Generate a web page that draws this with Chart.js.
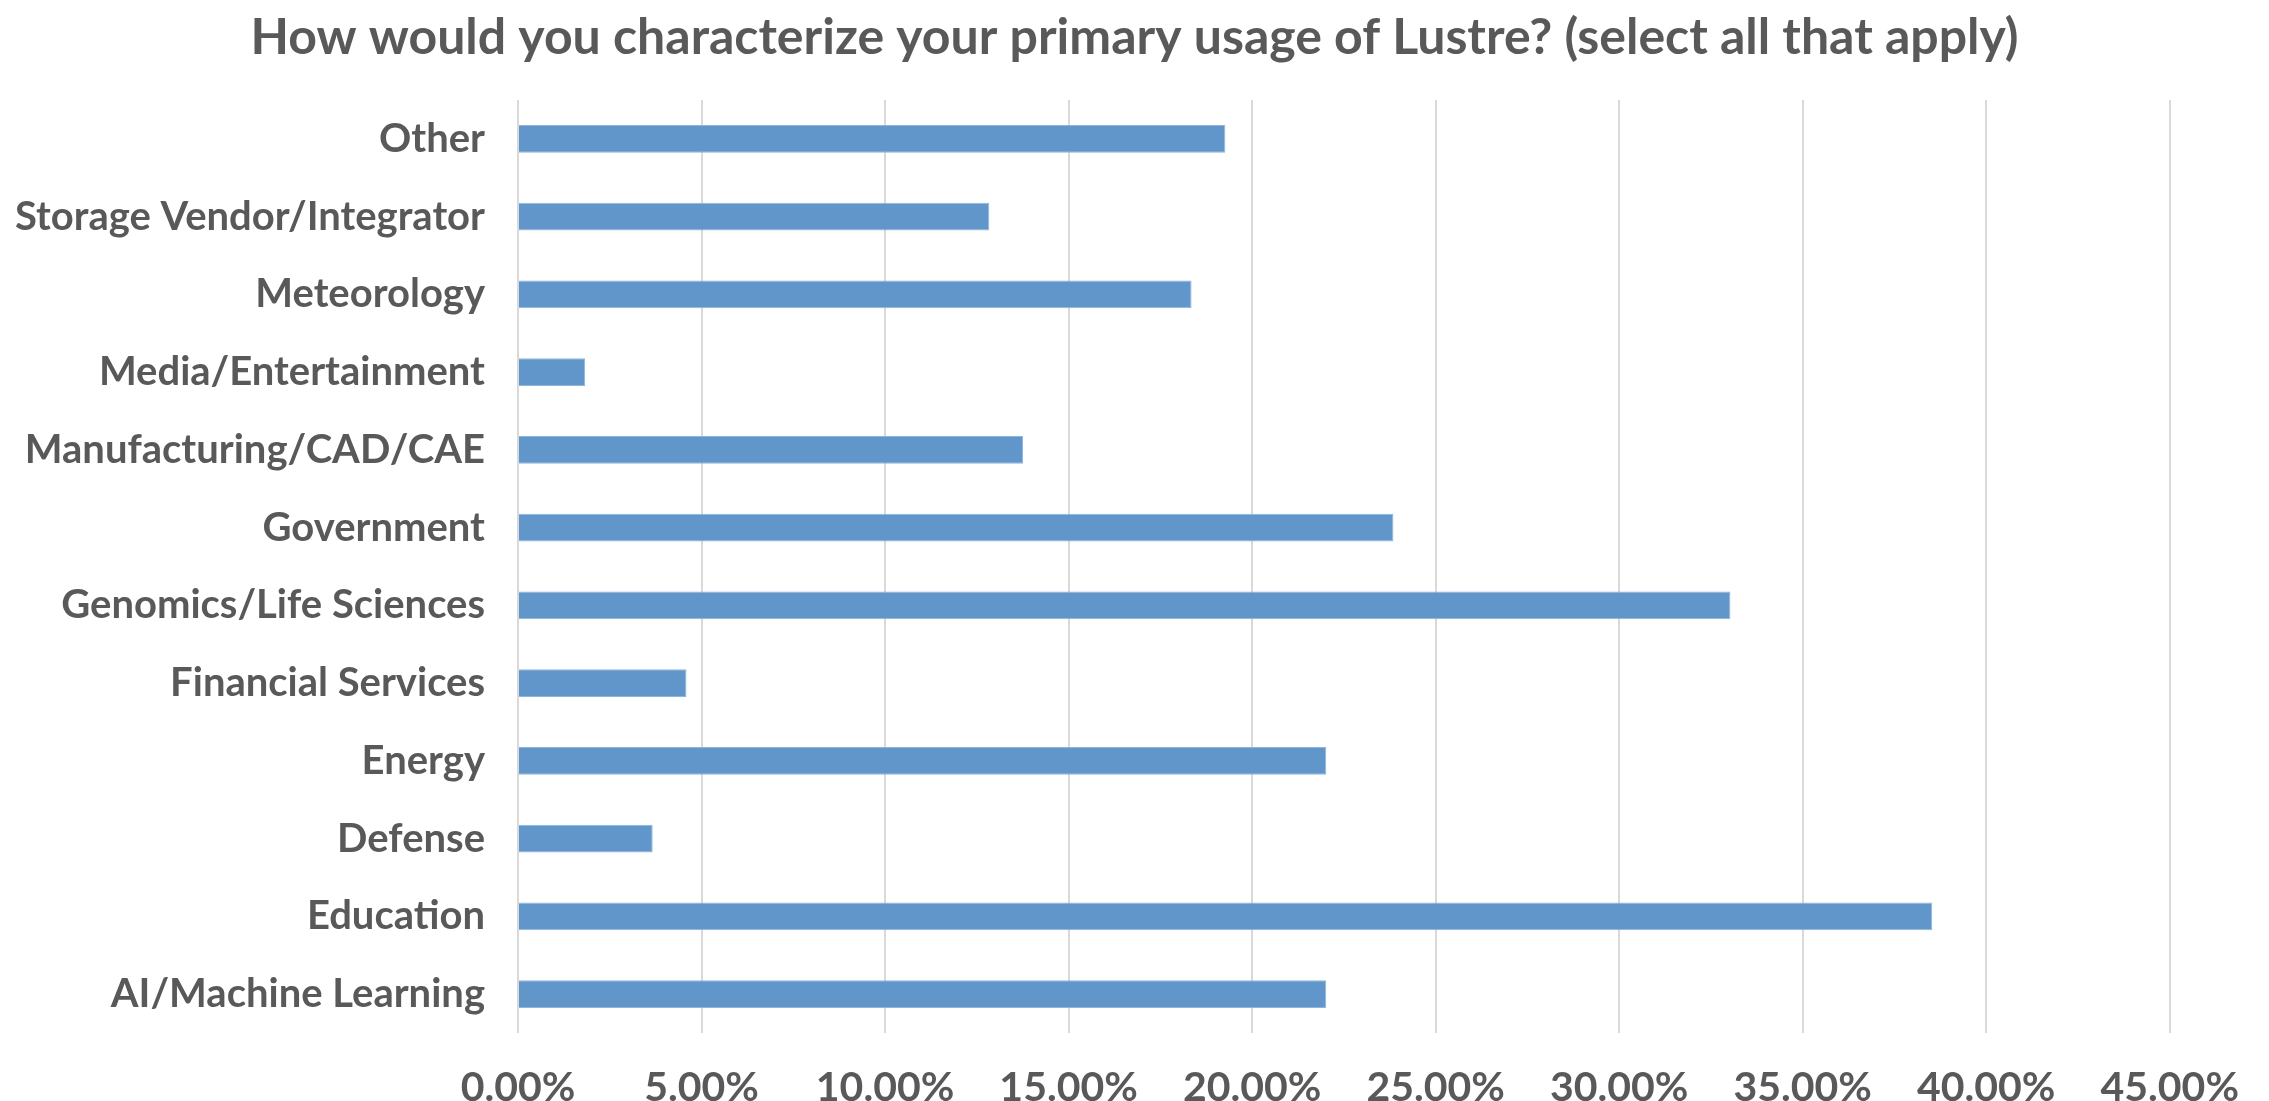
<!DOCTYPE html>
<html>
<head>
<meta charset="utf-8">
<title>Lustre usage</title>
<script src="https://cdn.jsdelivr.net/npm/chart.js@4"></script>
<style>
    html, body { margin: 0; padding: 0; background: #ffffff; }
    #wrap { width: 2269px; height: 1101px; }
</style>
</head>
<body>
<div id="wrap"><canvas id="chartCanvas" width="2269" height="1101"></canvas></div>
<script>
    // survey answers, bottom to top as in the original sheet
    const categories = [
        'AI/Machine Learning',
        'Education',
        'Defense',
        'Energy',
        'Financial Services',
        'Genomics/Life Sciences',
        'Government',
        'Manufacturing/CAD/CAE',
        'Media/Entertainment',
        'Meteorology',
        'Storage Vendor/Integrator',
        'Other'
    ];
    const shareOfResponses = [22.02, 38.53, 3.67, 22.02, 4.59, 33.03, 23.85, 13.76, 1.83, 18.35, 12.84, 19.27];
    const xTickMax = 45;
    const xTickStep = 5;

    const titleText = 'How would you characterize your primary usage of Lustre? (select all that apply)';
    const fontFamily = 'Lato, "Open Sans", sans-serif';
    const textColor = '#595959';

    const chartData = {
        labels: categories,
        datasets: [{
            label: 'Share',
            data: shareOfResponses,
            backgroundColor: '#6096c9',
            borderColor: '#8fb5dc',
            borderWidth: 1,
            categoryPercentage: 1,
            barPercentage: 0.36
        }]
    };

    // the title is centred on the whole image, not on the padded layout
    const centreTitle = {
        id: 'centreTitle',
        afterLayout(chart) {
            const t = chart.titleBlock;
            if (!t) return;
            t.left = 0;
            t.right = chart.width;
            t.width = chart.width;
        }
    };

    const ctx = document.getElementById('chartCanvas').getContext('2d');
    new Chart(ctx, {
        type: 'bar',
        data: chartData,
        plugins: [centreTitle],
        options: {
            indexAxis: 'y',
            responsive: false,
            animation: false,
            layout: {
                padding: { left: 0, right: 94, top: 0, bottom: 0 }
            },
            plugins: {
                legend: { display: false },
                tooltip: { enabled: false },
                title: {
                    display: true,
                    text: titleText,
                    color: textColor,
                    font: { family: fontFamily, size: 50, weight: 'bold' },
                    padding: { top: 8, bottom: 32 }
                }
            },
            scales: {
                x: {
                    min: 0,
                    max: xTickMax,
                    border: { display: false },
                    grid: {
                        color: '#d9d9d9',
                        lineWidth: 2,
                        drawTicks: false
                    },
                    ticks: {
                        stepSize: xTickStep,
                        autoSkip: false,
                        maxRotation: 0,
                        padding: 30,
                        color: textColor,
                        font: { family: fontFamily, size: 41, weight: 'bold' },
                        callback: value => value.toFixed(2) + '%'
                    },
                    afterFit: scale => { scale.height = 68; }
                },
                y: {
                    reverse: true,
                    border: { display: false },
                    grid: { display: false, drawTicks: false },
                    ticks: {
                        autoSkip: false,
                        padding: 33,
                        color: textColor,
                        font: { family: fontFamily, size: 40, weight: 'bold' }
                    },
                    afterFit: scale => { scale.width = 518; }
                }
            }
        }
    });
</script>
</body>
</html>
